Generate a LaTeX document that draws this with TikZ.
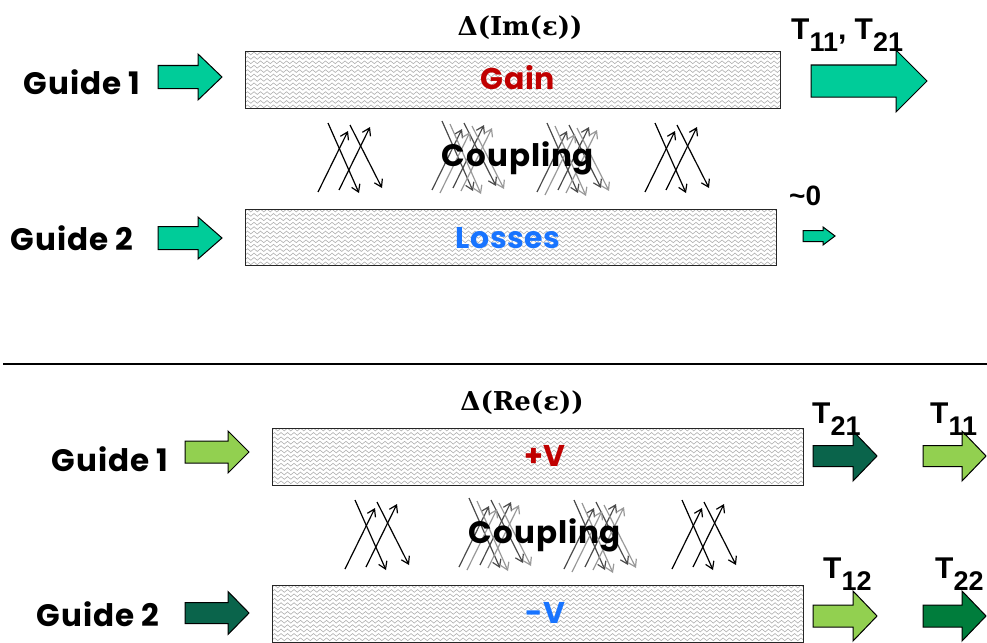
\documentclass[tikz,border=0pt]{standalone}
\usepackage{fontspec}
\usetikzlibrary{arrows.meta,decorations.pathmorphing}
\newfontfamily\gfont{Poppins}[LetterSpace=3]
\newfontfamily\ifont{Poppins}[LetterSpace=2]
\newfontfamily\afont{Liberation Sans}
\newfontfamily\sfont{DejaVu Serif}
\definecolor{teal1}{RGB}{0,204,153}
\definecolor{lgreen}{RGB}{146,208,80}
\definecolor{dgreen}{RGB}{10,100,75}
\definecolor{mgreen}{RGB}{0,125,60}
\definecolor{gainred}{RGB}{192,0,0}
\definecolor{lossblue}{RGB}{24,116,255}
\definecolor{wavegray}{RGB}{175,175,175}
\tikzset{
  gl/.style={font=\gfont\bfseries\fontsize{31}{31}\selectfont, inner sep=0pt},
  inl/.style={font=\ifont\bfseries\fontsize{30}{30}\selectfont, inner sep=0pt},
  tl/.style={font=\afont\bfseries\fontsize{30}{30}\selectfont, inner sep=0pt, anchor=base west},
  dl/.style={font=\sfont\bfseries\fontsize{26}{26}\selectfont, inner sep=0pt},
  wave/.style={draw=wavegray, line width=0.6pt, decorate, decoration={snake, segment length=6.5pt, amplitude=1.4pt}},
  boxline/.style={draw=black!85, line width=1pt},
  blk/.style={draw=black, line width=1pt, line join=miter},
  cpa/.style={line width=1.2pt, -{Straight Barb[length=7pt,width=9pt]}},
}
\newcommand\wavebox[5]{%
  \begin{scope}
    \clip (#2,#3) rectangle (#4,#5);
    \foreach \k in {0,...,14} \draw[wave] ({#2-6},{#3+1.5+\k*4.4}) -- ({#4+6},{#3+1.5+\k*4.4});
  \end{scope}
  \draw[boxline] (#2,#3) rectangle (#4,#5);
  \coordinate (#1) at ({(#2+#4)/2},{(#3+#5)/2});
}
\newcommand\blkarrow[7]{%
  \filldraw[blk, fill=#7] (#1,{#4-#5}) -- (#2,{#4-#5}) -- (#2,{#4-#6}) -- (#3,#4) -- (#2,{#4+#6}) -- (#2,{#4+#5}) -- (#1,{#4+#5}) -- cycle;
}
\newcommand\cpl[3]{%
  \begin{scope}[shift={(#1,#2)}]
    \draw[cpa,#3] (0,0) -- (30,-61);
    \draw[cpa,#3] (21,-2) -- (52,-65);
    \draw[cpa,#3] (10,-69) -- (41,1);
    \draw[cpa,#3] (32,-67) -- (64,-4);
  \end{scope}}
\newcommand\subs[1]{\lower12pt\hbox{\fontsize{27}{27}\selectfont #1}}
\begin{document}
\begin{tikzpicture}[x=1pt,y=-1pt]
\useasboundingbox (0,0) rectangle (987,642);
% ---------- top panel ----------
\wavebox{b1}{245}{52}{780}{108}
\wavebox{b2}{245}{209}{776}{265}
\node[inl, text=gainred] (gain) at (518,78) {Gain};
\node[inl, text=lossblue] (loss) at (508,238) {Losses};
\node[dl] (dim) at (520,28) {Δ(Im(ε))};
\node[gl] (g1t) at (82,82) {Guide 1};
\node[gl] (g2t) at (72,238) {Guide 2};
\blkarrow{158}{198}{222}{77}{11.5}{23}{teal1}
\blkarrow{158}{198}{222}{238}{11.5}{21}{teal1}
\blkarrow{811}{896}{927}{81}{16}{31}{teal1}
\blkarrow{803}{823}{835}{236}{5.5}{9}{teal1}
\node[tl] (t1) at (791,40) {T\subs{11}, T\subs{21}};
\node[tl, font=\afont\bfseries\fontsize{28}{28}\selectfont] (z0) at (789,205) {\char`\~0};
\cpl{318}{192}{black}
\cpl{432}{190}{black!70}
\cpl{440}{193}{black!40}
\cpl{537}{192}{black!70}
\cpl{545}{195}{black!40}
\cpl{645}{192}{black}
\node[gl] (cp1) at (518,158) {Coupling};
% ---------- separator ----------
\coordinate (sl) at (3,364);
\coordinate (sr) at (987,364);
\draw[line width=2pt] (sl) -- (sr);
% ---------- bottom panel ----------
\wavebox{b3}{272}{428}{803}{485}
\wavebox{b4}{272}{585}{803}{642}
\node[inl, text=gainred] (pv) at (545,456) {+V};
\node[inl, text=lossblue] (mv) at (545,613) {-V};
\node[dl] (dre) at (522,403) {Δ(Re(ε))};
\node[gl] (g1b) at (110,459) {Guide 1};
\node[gl] (g2b) at (98,614) {Guide 2};
\blkarrow{185}{228}{249}{452}{11}{21}{lgreen}
\blkarrow{185}{228}{249}{613}{10.5}{21.5}{dgreen}
\blkarrow{813}{853}{877}{456}{10.5}{25}{dgreen}
\blkarrow{923}{962}{986}{456}{10.5}{25}{lgreen}
\blkarrow{813}{853}{877}{616}{11}{25}{lgreen}
\blkarrow{923}{962}{986}{616}{11}{25}{mgreen}
\node[tl] (t21) at (812,423) {T\subs{21}};
\node[tl] (t11) at (930,423) {T\subs{11}};
\node[tl] (t12) at (823,578) {T\subs{12}};
\node[tl] (t22) at (935,578) {T\subs{22}};
\cpl{345}{569}{black}
\cpl{459}{567}{black!70}
\cpl{467}{570}{black!40}
\cpl{564}{569}{black!70}
\cpl{572}{572}{black!40}
\cpl{672}{569}{black}
\node[gl] (cp2) at (545,535) {Coupling};
\end{tikzpicture}
\end{document}
